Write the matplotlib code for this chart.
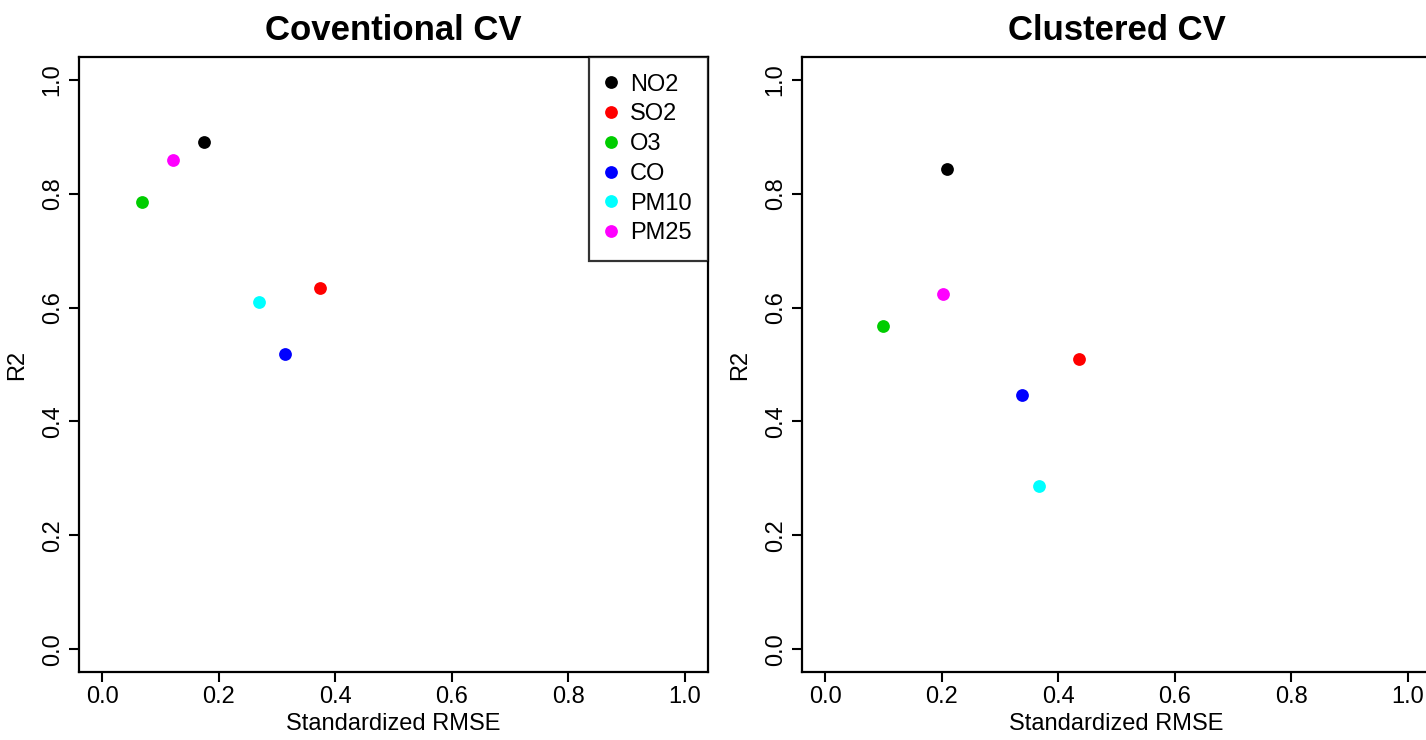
import matplotlib
matplotlib.use("Agg")
import matplotlib.pyplot as plt
from matplotlib.lines import Line2D

pollutants = ["NO2", "SO2", "O3", "CO", "PM10", "PM25"]
colors = ["#000000", "#FF0000", "#00CD00", "#0000FF", "#00FFFF", "#FF00FF"]

conv_rmse = [0.174, 0.373, 0.068, 0.313, 0.269, 0.122]
conv_r2 = [0.890, 0.635, 0.786, 0.519, 0.610, 0.860]

clus_rmse = [0.209, 0.435, 0.099, 0.338, 0.367, 0.202]
clus_r2 = [0.844, 0.509, 0.568, 0.447, 0.286, 0.624]

ticks = [0.0, 0.2, 0.4, 0.6, 0.8, 1.0]
tick_labels = ["0.0", "0.2", "0.4", "0.6", "0.8", "1.0"]

titles = ["Coventional CV", "Clustered CV"]

plt.rcParams['font.family'] = ['Liberation Sans', 'DejaVu Sans']

W, H = 1426, 740
fig = plt.figure(figsize=(W / 100, H / 100), dpi=100)

def px_axes(x0, y0, x1, y1):
    return fig.add_axes([x0 / W, 1 - y1 / H, (x1 - x0) / W, (y1 - y0) / H])

ax1 = px_axes(79, 57, 708, 672)
ax2 = px_axes(802, 57, 1431, 672)

for ax, xs, ys, title in [(ax1, conv_rmse, conv_r2, titles[0]),
                          (ax2, clus_rmse, clus_r2, titles[1])]:
    for x, y, c in zip(xs, ys, colors):
        ax.plot([x], [y], marker='o', ms=9.2, color=c, linestyle='none',
                markeredgewidth=0)
    ax.set_xlim(-0.04, 1.04)
    ax.set_ylim(-0.04, 1.04)
    ax.set_xticks(ticks)
    ax.set_xticklabels(tick_labels, fontsize=17)
    ax.set_yticks(ticks)
    ax.set_yticklabels(tick_labels, fontsize=17, rotation=90, va='center')
    ax.tick_params(direction='out', length=7, width=1.5)
    ax.tick_params(axis='x', pad=3)
    ax.tick_params(axis='y', pad=4)
    for s in ax.spines.values():
        s.set_linewidth(1.6)
    ax.set_xlabel("Standardized RMSE", fontsize=17, labelpad=4)
    ax.set_ylabel("R2", fontsize=17, labelpad=10)
    ax.set_title(title, fontsize=25, fontweight='bold', pad=12)

handles = [Line2D([0], [0], marker='o', color=c, linestyle='none', ms=9.2,
                  markeredgewidth=0) for c in colors]
leg = ax1.legend(handles, pollutants, loc='upper right', fontsize=17,
                 frameon=True, fancybox=False, borderaxespad=0,
                 handlelength=0.5, handletextpad=0.55, labelspacing=0.33,
                 borderpad=0.7)
leg.get_frame().set_edgecolor('black')
leg.get_frame().set_linewidth(1.6)

fig.savefig("out.png", dpi=100)
